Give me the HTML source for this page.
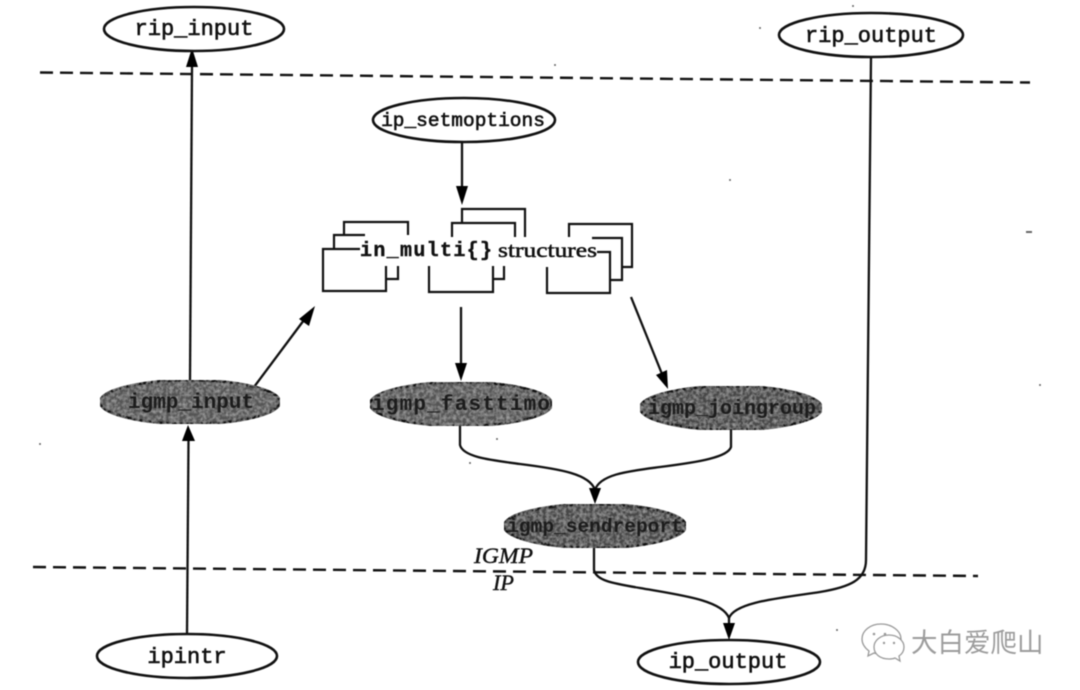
<!DOCTYPE html>
<html>
<head>
<meta charset="utf-8">
<style>
html,body{margin:0;padding:0;background:#fff;width:1080px;height:690px;overflow:hidden}
svg{display:block;filter:blur(.45px)}
.m{font-family:"Liberation Mono",monospace;font-size:22px;fill:#111;stroke:#111;stroke-width:.6;text-anchor:middle}
.d{font-family:"Liberation Mono",monospace;font-size:21px;font-weight:bold;fill:#1c1c1c;text-anchor:middle}
.n{fill:#fff;stroke:#111;stroke-width:2.600}
.g{fill:#555;stroke:#0c0c0c;stroke-width:2.400}
.g2{fill:#464646;stroke:#0c0c0c;stroke-width:2.400}
.l{fill:none;stroke:#111;stroke-width:2.300}
.b{fill:none;stroke:#111;stroke-width:2.200}
.h{fill:none;stroke:#111;stroke-width:2.400;stroke-dasharray:13 7}
.a{fill:#000}
.i{font-family:"Liberation Serif",serif;font-style:italic;font-size:22px;fill:#111;stroke:#111;stroke-width:.4}
</style>
</head>
<body>
<svg width="1080" height="690" viewBox="0 0 1080 690" xmlns="http://www.w3.org/2000/svg">
<defs>
<filter id="tx" x="0" y="0" width="100%" height="100%">
<feTurbulence type="fractalNoise" baseFrequency="0.3" numOctaves="2" seed="4"/>
<feColorMatrix values="0 0 0 0 .55  0 0 0 0 .55  0 0 0 0 .55  0 0 0 1.1 -.4"/>
<feComposite in2="SourceGraphic" operator="in"/>
<feMerge><feMergeNode in="SourceGraphic"/><feMergeNode/></feMerge>
</filter>
</defs>

<!-- dashed boundaries -->
<path class="h" d="M40,72.500L1030,82.500"/>
<path class="h" d="M33,567L978,576"/>

<!-- connectors -->
<path class="l" d="M190,380L192,66"/>
<path class="l" d="M187,634L188.500,440"/>
<path class="l" d="M462,143V190"/>
<path class="l" d="M254,387L304,320"/>
<path class="l" d="M461,307V366"/>
<path class="l" d="M631,297L662,374"/>
<path class="l" d="M460,426V445C463,457 490,460 520,464C560,469 590,474 595,490"/>
<path class="l" d="M731,430V447C728,457 700,462 660,467C630,471 600,474 595,490"/>
<path class="l" d="M594,548V570C596,580 610,583 640,588C680,595 722,600 729,618V625"/>
<path class="l" d="M871,57L866,560C866,580 850,587 820,592C780,598 735,602 729,618"/>

<!-- arrowheads -->
<path class="a" d="M192,48L186,67H198Z"/>
<path class="a" d="M188,425L182,441H195Z"/>
<path class="a" d="M462,205L456,186H468Z"/>
<path class="a" d="M315,306L299,319L309,326Z"/>
<path class="a" d="M461,381L455,363H467Z"/>
<path class="a" d="M668,389L656,375L667,370Z"/>
<path class="a" d="M595,504L589,488H601Z"/>
<path class="a" d="M729,640L723,623H735Z"/>

<!-- structure boxes -->
<path class="b" d="M344,235V222H408V235"/>
<path class="b" d="M334,249V235H365"/>
<path class="b" d="M360,249H323V291H386V266"/>
<path class="b" d="M386,279H398V266"/>
<path class="b" d="M462,223V209H525V237"/>
<path class="b" d="M452,237V223H515V237"/>
<path class="b" d="M429,266V292H493V266"/>
<path class="b" d="M493,279H504V266"/>
<path class="b" d="M569,237V224H632V267H622"/>
<path class="b" d="M592,238H622V280H611"/>
<path class="b" d="M597,252H610V293H547V267"/>
<text x="360" y="256" font-family="'Liberation Mono',monospace" font-weight="bold" font-size="20" fill="#111" stroke="#111" stroke-width=".4" textLength="132" lengthAdjust="spacing">in_multi{}</text>
<text x="498" y="257" font-family="'Liberation Serif',serif" font-size="21" fill="#111" stroke="#111" stroke-width=".5" textLength="99" lengthAdjust="spacingAndGlyphs">structures</text>

<!-- white nodes -->
<ellipse class="n" cx="194" cy="29" rx="90" ry="22"/>
<text class="m" x="194" y="35">rip_input</text>
<ellipse class="n" cx="871" cy="35" rx="92" ry="22"/>
<text class="m" x="871" y="42">rip_output</text>
<ellipse class="n" cx="464" cy="120" rx="91" ry="22"/>
<text class="m" x="463" y="126" style="font-size:19.500px">ip_setmoptions</text>
<ellipse class="n" cx="187" cy="656" rx="90" ry="22"/>
<text class="m" x="187" y="663">ipintr</text>
<ellipse class="n" cx="729" cy="662" rx="91" ry="22"/>
<text class="m" x="728" y="668">ip_output</text>

<!-- dark nodes -->
<ellipse class="g" cx="190" cy="402" rx="90" ry="22" filter="url(#tx)"/>
<text class="d" x="191" y="408">igmp_input</text>
<ellipse class="g" cx="461" cy="404" rx="91" ry="22" filter="url(#tx)"/>
<text class="d" x="461" y="410" textLength="178" lengthAdjust="spacing">igmp_fasttimo</text>
<ellipse class="g2" cx="731" cy="408" rx="91" ry="22" filter="url(#tx)"/>
<text class="d" x="732" y="414" style="font-size:20px">igmp_joingroup</text>
<ellipse class="g2" cx="595" cy="526" rx="91" ry="22" filter="url(#tx)"/>
<text class="d" x="595" y="532" style="font-size:19.500px">igmp_sendreport</text>

<!-- layer labels -->
<text class="i" x="474" y="563" textLength="59" lengthAdjust="spacingAndGlyphs">IGMP</text>
<text class="i" x="493" y="590" textLength="21" lengthAdjust="spacingAndGlyphs">IP</text>

<!-- watermark -->
<g fill="#fff" stroke="#9a9a9a" stroke-width="1.300">
<path d="M881,624C870,624 862,631 862,639C862,644 865,648 869,651L868,656L874,653C877,654 879,654 882,654C894,654 901,647 901,639C901,631 892,624 881,624Z"/>
<path d="M889,635C880,635 874,641 874,647C874,654 880,659 889,659C891,659 893,659 895,658L900,661L899,656C902,654 904,651 904,647C904,641 898,635 889,635Z"/>
</g>
<g fill="#9a9a9a"><circle cx="874" cy="634" r="1.300"/><circle cx="885" cy="634" r="1.300"/><circle cx="884" cy="643" r="1.200"/><circle cx="894" cy="643" r="1.200"/></g>
<text x="911" y="652" font-family="'Liberation Sans','Noto Sans CJK SC',sans-serif" font-size="26.500" fill="#9c9c9c">大白爱爬山</text>

<!-- specks -->
<g fill="#666">
<rect x="1026" y="231" width="6" height="2"/>
<circle cx="40" cy="444" r="1"/><circle cx="730" cy="180" r="1"/><circle cx="1040" cy="385" r="1"/>
<circle cx="853" cy="6" r="1"/><circle cx="760" cy="28" r="1"/><circle cx="555" cy="65" r="1"/>
<circle cx="497" cy="439" r="1"/><circle cx="470" cy="463" r="1"/><circle cx="837" cy="630" r="1"/>
</g>
</svg>
</body>
</html>
